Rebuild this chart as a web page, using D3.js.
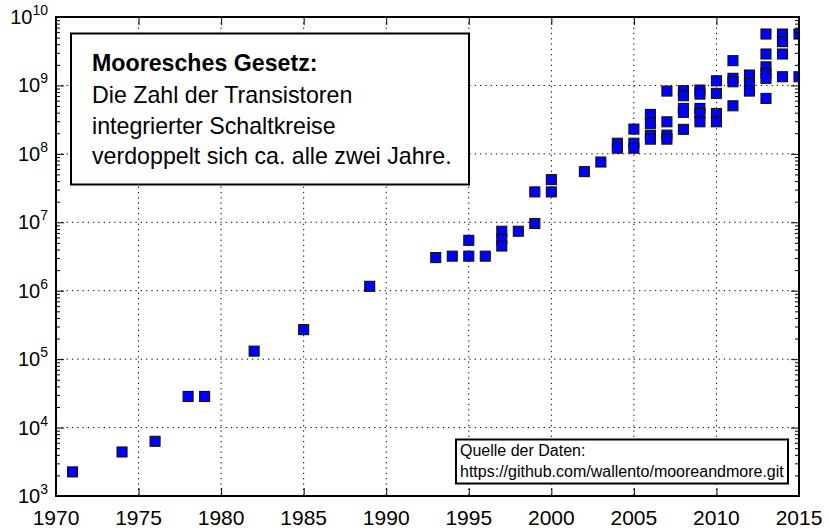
<!DOCTYPE html>
<html>
<head>
<meta charset="utf-8">
<script src="https://cdn.jsdelivr.net/npm/d3@7"></script>
<style>
  html, body { margin: 0; padding: 0; background: #fff; }
  svg { display: block; font-family: "Liberation Sans", Arial, Helvetica, sans-serif; }
</style>
</head>
<body>
<svg id="chart" width="829" height="530"></svg>
<script>
// ---- data (year, transistor count) ----
const years = [
  1971, 1974, 1976, 1978, 1979, 1982, 1985, 1989,
  1993, 1994, 1995, 1995, 1996,
  1997, 1997, 1997, 1998, 1999, 1999, 2000, 2000,
  2002, 2003, 2004, 2004, 2005, 2005, 2005,
  2006, 2006, 2006, 2006,
  2007, 2007, 2007, 2007,
  2008, 2008, 2008, 2008, 2008,
  2009, 2009, 2009, 2009, 2009,
  2010, 2010, 2010, 2010,
  2011, 2011, 2011, 2011,
  2012, 2012, 2012,
  2013, 2013, 2013, 2013, 2013, 2013,
  2014, 2014, 2014, 2014,
  2015, 2015
];
const transistors = [
  2250, 4400, 6300, 28500, 28500, 131000, 270000, 1160000,
  3050000, 3200000, 3200000, 5450000, 3200000,
  7400000, 5700000, 4500000, 7400000, 9600000, 27800000, 27800000, 42000000,
  55000000, 76000000, 143000000, 121000000, 143000000, 121000000, 230000000,
  377000000, 279000000, 188000000, 164000000,
  827000000, 294000000, 188000000, 164000000,
  836000000, 706000000, 461000000, 404000000, 228000000,
  855000000, 747000000, 461000000, 389000000, 294000000,
  1170000000, 766000000, 389000000, 294000000,
  2300000000, 1270000000, 1130000000, 504000000,
  1420000000, 1070000000, 827000000,
  5640000000, 2880000000, 1870000000, 1500000000, 1270000000, 646000000,
  5640000000, 4360000000, 2880000000, 1340000000,
  5640000000, 1340000000
];
const xTicks = [1970, 1975, 1980, 1985, 1990, 1995, 2000, 2005, 2010, 2015];
const yExponents = [3, 4, 5, 6, 7, 8, 9, 10];
const titleText = "Mooresches Gesetz:";
const bodyLines = ["Die Zahl der Transistoren", "integrierter Schaltkreise", "verdoppelt sich ca. alle zwei Jahre."];
const sourceLines = ["Quelle der Daten:", "https://github.com/wallento/mooreandmore.git"];

// ---- layout ----
const L = 56, R = 799, T = 17, B = 496;
const svg = d3.select("#chart");

const x = d3.scaleLinear().domain([1970, 2015]).range([L, R]);
const y = d3.scaleLog().domain([1e3, 1e10]).range([B, T]);

svg.append("defs").append("clipPath").attr("id", "plotclip")
  .append("rect").attr("x", L).attr("y", T).attr("width", R - L).attr("height", B - T);

// markers
const pts = years.map((yr, i) => ({ yr, v: transistors[i] }));
const S = 10;
svg.append("g").attr("clip-path", "url(#plotclip)")
  .selectAll("rect").data(pts).enter().append("rect")
  .attr("x", d => x(d.yr) - S / 2)
  .attr("y", d => y(d.v) - S / 2)
  .attr("width", S).attr("height", S)
  .attr("fill", "#0000ff")
  .attr("stroke", "#111")
  .attr("stroke-width", 1.1);

// grid (drawn above markers)
const grid = svg.append("g").attr("stroke", "#000").attr("stroke-width", 1)
  .attr("stroke-dasharray", "1.3,4").attr("fill", "none");
xTicks.slice(1, -1).forEach(t => {
  grid.append("line").attr("x1", x(t)).attr("x2", x(t)).attr("y1", T).attr("y2", B);
});
yExponents.slice(1, -1).forEach(e => {
  grid.append("line").attr("x1", L).attr("x2", R).attr("y1", y(Math.pow(10, e))).attr("y2", y(Math.pow(10, e)));
});

// axes via d3 axis generators (ticks inward)
const minorVals = [];
for (let e = 3; e < 10; e++) for (let m = 2; m <= 9; m++) minorVals.push(m * Math.pow(10, e));
const majorVals = yExponents.map(e => Math.pow(10, e));

function styleAxis(g) {
  g.select(".domain").remove();
  g.selectAll("text").remove();
  g.selectAll("line").attr("stroke", "#000").attr("stroke-width", 1);
}
svg.append("g").attr("transform", `translate(0,${B})`)
  .call(d3.axisBottom(x).tickValues(xTicks).tickSizeInner(-8).tickSizeOuter(0)).call(styleAxis);
svg.append("g").attr("transform", `translate(0,${T})`)
  .call(d3.axisTop(x).tickValues(xTicks).tickSizeInner(-8).tickSizeOuter(0)).call(styleAxis);
svg.append("g").attr("transform", `translate(${L},0)`)
  .call(d3.axisLeft(y).tickValues(majorVals).tickSizeInner(-8).tickSizeOuter(0)).call(styleAxis);
svg.append("g").attr("transform", `translate(${L},0)`)
  .call(d3.axisLeft(y).tickValues(minorVals).tickSizeInner(-4).tickSizeOuter(0)).call(styleAxis);
svg.append("g").attr("transform", `translate(${R},0)`)
  .call(d3.axisRight(y).tickValues(majorVals).tickSizeInner(-8).tickSizeOuter(0)).call(styleAxis);
svg.append("g").attr("transform", `translate(${R},0)`)
  .call(d3.axisRight(y).tickValues(minorVals).tickSizeInner(-4).tickSizeOuter(0)).call(styleAxis);

// x tick labels
svg.append("g").selectAll("text").data(xTicks).enter().append("text")
  .attr("x", d => x(d)).attr("y", 525)
  .attr("text-anchor", "middle").attr("font-size", 21).attr("fill", "#000")
  .text(d => d);

// y tick labels 10^n
const yl = svg.append("g").selectAll("text").data(yExponents).enter().append("text")
  .attr("x", 48).attr("y", e => y(Math.pow(10, e)) + 7)
  .attr("text-anchor", "end").attr("fill", "#000");
yl.append("tspan").attr("font-size", 20).text("10");
yl.append("tspan").attr("font-size", 14).attr("dy", -9).text(e => e);

// frame
svg.append("rect").attr("x", L).attr("y", T).attr("width", R - L).attr("height", B - T)
  .attr("fill", "none").attr("stroke", "#000").attr("stroke-width", 2);

// main text box
svg.append("rect").attr("x", 71).attr("y", 33.5).attr("width", 398).attr("height", 151)
  .attr("fill", "#fff").attr("stroke", "#000").attr("stroke-width", 2);
svg.append("text").attr("x", 92).attr("y", 71).attr("font-size", 23.2)
  .attr("font-weight", "bold").attr("fill", "#000").text(titleText);
svg.append("g").selectAll("text").data(bodyLines).enter().append("text")
  .attr("x", 92).attr("y", (d, i) => 103 + i * 30.5)
  .attr("font-size", 23.2).attr("fill", "#000").text(d => d);

// source box
svg.append("rect").attr("x", 456).attr("y", 439.5).attr("width", 332).attr("height", 44)
  .attr("fill", "#fff").attr("stroke", "#000").attr("stroke-width", 2);
svg.append("g").selectAll("text").data(sourceLines).enter().append("text")
  .attr("x", 460).attr("y", (d, i) => 456 + i * 20.5)
  .attr("font-size", 16).attr("fill", "#000").text(d => d);
</script>
</body>
</html>
